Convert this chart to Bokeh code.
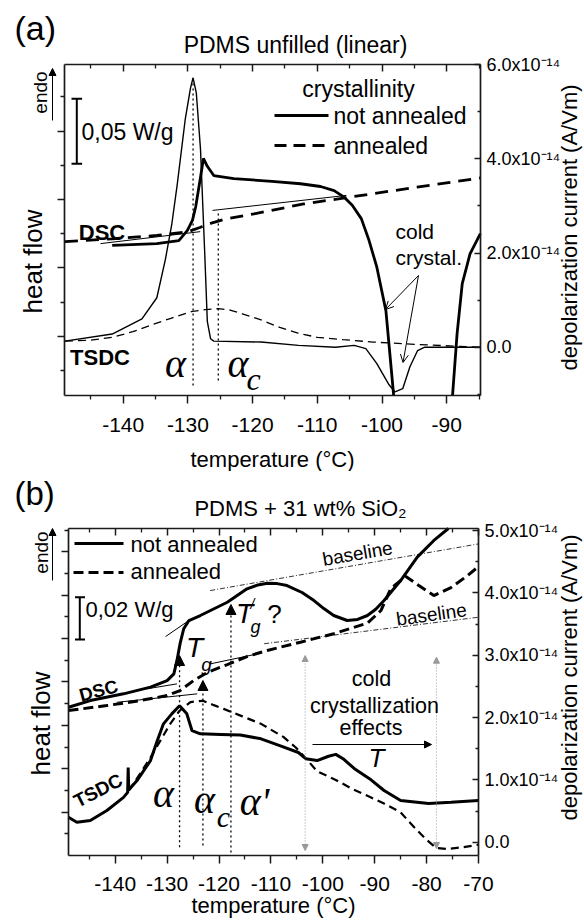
from math import pi
from bokeh.plotting import figure
from bokeh.models import Range1d, LinearAxis, FixedTicker, Label, Arrow, NormalHead, OpenHead
from bokeh.layouts import column
from bokeh.embed import file_html
from bokeh.resources import INLINE

SANS = "Liberation Sans"
SERIF = "Liberation Serif"
INK = "#1a1a1a"
NAN = float("nan")

# ---------------- panel (a): PDMS unfilled (linear) ----------------
# DSC heat flow (arbitrary units, left axis)
a_dsc_na_T = [-141.7, -134.8, -131.4, -130.1, -129.3, -128.8, -128.05, -127.6, -127.0, -126.0, -122.9, -117.0,
              -112.6, -109.5, -107.4, -105.8, -104.6, -103.2, -102.0, -100.8, -99.4, -98.2, NAN, -89.1,
              -88.4, -87.6, -86.4, -84.8]
a_dsc_na_hf = [3.66, 3.71, 3.80, 4.09, 4.39, 4.78, 5.65, 6.20, 5.97, 5.70, 5.61, 5.53,
               5.46, 5.38, 5.26, 5.06, 4.83, 4.44, 3.80, 3.02, 1.75, -0.73, NAN, -0.73,
               1.07, 2.54, 3.41, 4.00]
a_dsc_an_T = [-149.0, -141.7, -134.8, -130.1, -128.05, -126.5, -124.4, -119.8, -112.1, -104.9, -94.6, -84.8]
a_dsc_an_hf = [3.77, 3.85, 3.95, 4.05, 4.19, 4.30, 4.42, 4.58, 4.87, 5.07, 5.36, 5.63]
# TSDC depolarization current (units of 1e-14 A/Vm, right axis)
a_tsdc_na_T = [-149.0, -141.7, -137.1, -134.8, -133.5, -132.5, -131.65, -130.4, -129.6, -129.2, -128.7, -128.05,
               -127.4, -127.0, -126.5, -126.0, -118.7, -112.9, -107.2, -104.3, -102.5, -100.8, -99.0, -98.0,
               -96.8, -95.7, -94.5, -93.4, -84.8]
a_tsdc_na_I = [0.13, 0.28, 0.60, 1.05, 1.85, 2.60, 3.45, 4.85, 5.50, 5.72, 5.40, 4.20,
               2.00, 0.55, 0.18, 0.13, 0.11, 0.04, 0.00, 0.04, -0.03, -0.35, -0.78, -0.95,
               -0.88, -0.42, -0.07, 0.00, 0.00]
a_tsdc_an_T = [-149.0, -145.0, -141.7, -138.5, -135.9, -132.5, -129.3, -127.3, -125.3, -123.5, -121.6, -118.7,
               -115.8, -113.0, -110.0, -106.0, -101.4, -95.0, -84.8]
a_tsdc_an_I = [0.13, 0.15, 0.21, 0.33, 0.46, 0.62, 0.76, 0.80, 0.82, 0.79, 0.71, 0.58,
               0.42, 0.30, 0.21, 0.16, 0.11, 0.06, 0.00]
# tangent construction lines (DSC)
a_tan1_T = [-143.5, -128.1]
a_tan1_hf = [3.71, 4.06]
a_tan2_T = [-126.2, -105.5]
a_tan2_hf = [4.68, 5.12]
# peak markers
a_alpha_T = -129.2
a_alphac_T = -125.3

a_x_major = [-140, -130, -120, -110, -100, -90]
a_x_minor = [-145, -135, -125, -115, -105, -95, -85]
a_x_labels = ["-140", "-130", "-120", "-110", "-100", "-90"]
a_r_major = [0, 2, 4, 6]
a_r_minor = [-1, 1, 3, 5]
a_r_labels = ["0.0", "2.0x10\u207b\u00b9\u2074", "4.0x10\u207b\u00b9\u2074", "6.0x10\u207b\u00b9\u2074"]
a_l_major = [1, 3, 5, 7]
a_l_minor = [0, 2, 4, 6, 8]

# ---------------- panel (b): PDMS + 31 wt% SiO2 ----------------
b_dsc_na_T = [-149.0, -144.8, -138.4, -133.2, -130.0, -128.7, -128.1, -127.5, -126.8, -125.8, -123.6, -118.4,
              -114.6, -112.5, -110.7, -108.8, -106.9, -104.0, -101.7, -99.8, -97.9, -95.3, -93.3, -91.4,
              -89.8, -88.2, -85.0, -81.8, -78.6, -75.8]
b_dsc_na_hf = [5.83, 6.14, 6.45, 6.76, 7.06, 7.37, 7.99, 8.76, 9.45, 9.83, 10.06, 10.67,
               11.29, 11.47, 11.55, 11.53, 11.44, 11.12, 10.75, 10.38, 10.06, 9.83, 9.88, 10.06,
               10.35, 10.75, 11.67, 12.75, 13.52, 14.07]
b_dsc_an_T = [-149.0, -141.6, -135.2, -130.0, -127.5, -124.9, -122.3, -118.4, -114.6, -110.7, -104.3, -97.9,
              -91.4, -88.8, -86.9, -84.0, -81.5, -78.6, -75.3, -72.1, -70.0]
b_dsc_an_hf = [5.68, 5.91, 6.14, 6.37, 6.60, 7.06, 7.43, 7.80, 8.17, 8.45, 8.83, 9.22,
               9.71, 10.29, 11.30, 11.86, 11.44, 10.98, 11.35, 11.90, 12.32]
b_tsdc_na_T = [-149.0, -147.4, -144.8, -141.6, -138.4, -137.6, -137.5, -137.4, -135.8, -133.2, -131.9, -130.7,
               -129.1, -127.6, -126.2, -125.2, -123.6, -119.7, -115.9, -111.9, -108.3, -104.7, -103.3, -101.1,
               -98.9, -97.5, -96.1, -93.9, -91.0, -88.2, -85.0, -79.6, -75.3, -70.0]
b_tsdc_na_I = [0.40, 0.32, 0.35, 0.51, 0.72, 0.80, 1.20, 0.84, 0.99, 1.31, 1.63, 1.90,
               2.06, 2.19, 2.06, 1.79, 1.74, 1.73, 1.72, 1.66, 1.55, 1.44, 1.34, 1.31,
               1.38, 1.41, 1.34, 1.18, 1.02, 0.83, 0.67, 0.62, 0.64, 0.67]
b_tsdc_an_T = [-137.4, -135.2, -133.2, -131.3, -129.4, -127.6, -125.5, -123.1, -121.0, -119.1, -115.5, -111.9,
               -107.6, -105.2, -103.0, -101.1, -97.5, -94.2, -91.0, -88.2, -85.0, -83.4, -81.8, -80.0,
               -78.2, -76.0, -73.0, -70.0]
b_tsdc_an_I = [0.83, 1.10, 1.36, 1.63, 1.90, 2.11, 2.25, 2.27, 2.20, 2.14, 2.02, 1.90,
               1.69, 1.52, 1.32, 1.14, 1.00, 0.85, 0.73, 0.62, 0.48, 0.33, 0.19, 0.04,
               -0.09, -0.11, -0.08, -0.04]
b_tangents = [([-130.3, -125.8], [9.09, 9.83]),
              ([-139.7, -124.2], [6.06, 6.45]),
              ([-133.9, -128.1], [6.68, 6.91]),
              ([-121.7, -112.6], [7.83, 8.29])]
b_baselines = [([-121.7, -70.0], [11.21, 13.36]),
               ([-111.3, -70.0], [8.76, 9.98])]
b_alpha_T = -127.6
b_alphac_T = -123.1
b_alphap_T = -117.7
b_cc_start_T = -103.4
b_cc_end_T = -78.1

b_x_major = [-140, -130, -120, -110, -100, -90, -80, -70]
b_x_minor = [-145, -135, -125, -115, -105, -95, -85, -75]
b_x_labels = ["-140", "-130", "-120", "-110", "-100", "-90", "-80", "-70"]
b_r_major = [0, 1, 2, 3, 4, 5]
b_r_minor = [0.5, 1.5, 2.5, 3.5, 4.5]
b_r_labels = ["0.0"] + ["%d.0x10\u207b\u00b9\u2074" % k for k in range(1, 6)]
b_l_major = [1, 3, 5, 7, 9, 11, 13]
b_l_minor = [0, 2, 4, 6, 8, 10, 12, 14]

W = 584


class Panel:
    """A figure whose plotting frame is the whole canvas; the visible box is drawn by
    four bounded axes at fixed locations so that texts can sit anywhere on the canvas."""

    def __init__(self, top, H, box, xb, ylb, yrb):
        L, R, T, B = box
        self.L, self.R, self.T, self.B = box
        self.xb, self.ylb, self.yrb = xb, ylb, yrb
        sx = (R - L) / (xb[1] - xb[0])
        sl = (B - T) / (ylb[1] - ylb[0])
        sr = (B - T) / (yrb[1] - yrb[0])
        self.sx, self.sl = sx, sl
        xr = (xb[0] - L / sx, xb[1] + (W - R) / sx)
        yl = (ylb[0] - (top + H - B) / sl, ylb[1] + (T - top) / sl)
        yr = (yrb[0] - (top + H - B) / sr, yrb[1] + (T - top) / sr)
        p = figure(width=W, height=H, x_range=Range1d(*xr), y_range=Range1d(*yl),
                   output_backend="svg", toolbar_location=None,
                   x_axis_location=None, y_axis_location=None,
                   min_border=0, min_border_left=0, min_border_right=0,
                   min_border_top=0, min_border_bottom=0)
        p.extra_y_ranges = {"I": Range1d(*yr)}
        p.outline_line_color = None
        p.background_fill_color = "white"
        p.border_fill_color = "white"
        p.xgrid.visible = False
        p.ygrid.visible = False
        self.p = p

    def x(self, px):
        return self.xb[0] + (px - self.L) / self.sx

    def y(self, py):
        return self.ylb[0] + (self.B - py) / self.sl

    def axis(self, where, major, minor, labels=None, tin=0, tout=8, mtin=0, mtout=4,
             size="21px", standoff=5):
        kw = dict(ticker=FixedTicker(ticks=major, minor_ticks=minor),
                  axis_line_color=INK, axis_line_width=1.7,
                  major_tick_line_color=INK, major_tick_line_width=1.5,
                  minor_tick_line_color=INK, minor_tick_line_width=1.3,
                  major_tick_in=tin, major_tick_out=tout, minor_tick_in=mtin, minor_tick_out=mtout,
                  major_label_standoff=standoff, major_label_text_font=SANS,
                  major_label_text_color="black")
        if labels is None:
            kw["major_label_text_font_size"] = "0px"
        else:
            kw["major_label_text_font_size"] = size
            kw["major_label_overrides"] = dict(zip(major, labels))
        if where == "below":
            kw.update(fixed_location=self.ylb[0], bounds=self.xb)
        elif where == "above":
            kw.update(fixed_location=self.ylb[1], bounds=self.xb)
        elif where == "left":
            kw.update(fixed_location=self.xb[0], bounds=self.ylb)
        else:
            kw.update(fixed_location=self.xb[1], bounds=self.yrb, y_range_name="I")
        self.p.add_layout(LinearAxis(**kw), where)

    def txt(self, px, py, s, size, style="normal", font=SANS, align="center", baseline="middle", angle=0.0):
        self.p.add_layout(Label(x=self.x(px), y=self.y(py), text=s, text_font=font,
                                text_font_size="%spx" % size, text_font_style=style,
                                text_align=align, text_baseline=baseline, angle=angle,
                                text_color="black"))

    def arrow(self, p0, p1, end=None, start=None, color="black", width=1.0, dash="solid"):
        self.p.add_layout(Arrow(x_start=self.x(p0[0]), y_start=self.y(p0[1]),
                                x_end=self.x(p1[0]), y_end=self.y(p1[1]),
                                end=end, start=start, line_color=color, line_width=width,
                                line_dash=dash))


def head(size, color="black"):
    return NormalHead(size=size, fill_color=color, line_color=color, line_width=1)


# ============ panel (a) ============
HA = 471
A = Panel(0, HA, (64, 480, 64, 395), (-149.07, -84.78), (-0.731, 8.947), (-1.025, 6.002))
pa = A.p
A.axis("below", a_x_major, a_x_minor, a_x_labels, tout=8, mtout=4, size="21px", standoff=14)
A.axis("above", a_x_major, a_x_minor, None, tin=7, tout=0, mtin=4, mtout=0)
A.axis("left", a_l_major, a_l_minor, None, tin=0, tout=7, mtin=0, mtout=4)
A.axis("right", a_r_major, a_r_minor, a_r_labels, tin=6, tout=0, mtin=3, mtout=0, size="18px", standoff=6)

pa.line(a_dsc_an_T, a_dsc_an_hf, line_color="black", line_width=2.8, line_dash="13 8")
pa.line(a_dsc_na_T, a_dsc_na_hf, line_color="black", line_width=2.8)
pa.line(a_tsdc_an_T, a_tsdc_an_I, y_range_name="I", line_color="black", line_width=1.3, line_dash="8 5")
pa.line(a_tsdc_na_T, a_tsdc_na_I, y_range_name="I", line_color="black", line_width=1.4)
pa.line(a_tan1_T, a_tan1_hf, line_color="black", line_width=1)
pa.line(a_tan2_T, a_tan2_hf, line_color="black", line_width=1)
pa.line([a_alpha_T, a_alpha_T], [A.y(78), A.y(385)], line_color="black", line_width=1.3, line_dash="2 3")
pa.line([a_alphac_T, a_alphac_T], [A.y(213), A.y(380)], line_color="black", line_width=1.3, line_dash="2 3")

# legend
pa.line([A.x(274), A.x(328)], [A.y(115)] * 2, line_color="black", line_width=2.8)
pa.line([A.x(274), A.x(328)], [A.y(145)] * 2, line_color="black", line_width=2.8, line_dash="12 7")
A.txt(358, 88, "crystallinity", 23)
A.txt(333, 115, "not annealed", 23, align="left")
A.txt(333, 145, "annealed", 23, align="left")
# scale bar
pa.segment(x0=[A.x(76.3), A.x(71), A.x(71)], y0=[A.y(98.3), A.y(98.3), A.y(163.3)],
           x1=[A.x(76.3), A.x(81.6), A.x(81.6)], y1=[A.y(163.3), A.y(98.3), A.y(163.3)],
           line_color="black", line_width=2)
A.txt(81, 131, "0,05 W/g", 23, align="left")
A.txt(101.5, 231.5, "DSC", 22, style="bold")
A.txt(99.5, 357, "TSDC", 22, style="bold")
A.txt(175, 362.5, "\u03b1", 40, style="italic", font=SERIF)
A.txt(237.5, 362.5, "\u03b1", 40, style="italic", font=SERIF)
A.txt(253, 378, "c", 32, style="italic", font=SERIF)
A.txt(395, 231, "cold", 21, align="left")
A.txt(395, 257, "crystal.", 21, align="left")
A.arrow((418, 275), (385, 309), end=OpenHead(size=8, line_width=1))
A.arrow((418, 275), (402.5, 362), end=OpenHead(size=8, line_width=1))
# texts around the box
A.txt(14, 27, "(a)", 34, align="left")
A.txt(295, 44, "PDMS unfilled (linear)", 23)
A.txt(40, 92, "endo", 19, angle=pi / 2)
A.arrow((52, 120), (52, 68), end=head(7))
A.txt(32, 261, "heat flow", 26, angle=pi / 2)
A.txt(272, 459, "temperature (\u00b0C)", 22)
A.txt(569, 227, "depolarization current (A/Vm)", 22, angle=pi / 2)

# ============ panel (b) ============
Bp = Panel(HA, 920 - HA, (68, 478, 528, 855), (-149.0, -70.0), (-1.0, 14.07), (-0.213, 5.035))
pb = Bp.p
Bp.axis("below", b_x_major, b_x_minor, b_x_labels, tout=8, mtout=4, size="21px", standoff=13)
Bp.axis("above", b_x_major, b_x_minor, None, tin=7, tout=0, mtin=4, mtout=0)
Bp.axis("left", b_l_major, b_l_minor, None, tin=0, tout=7, mtin=0, mtout=4)
Bp.axis("right", b_r_major, b_r_minor, b_r_labels, tin=6, tout=0, mtin=3, mtout=0, size="18px", standoff=6)

for xs, ys in b_baselines:
    pb.line(xs, ys, line_color="#333333", line_width=1, line_dash="5 2 1 2")
for xs, ys in b_tangents:
    pb.line(xs, ys, line_color="black", line_width=1)
pb.line(b_dsc_an_T, b_dsc_an_hf, line_color="black", line_width=3, line_dash="10 5")
pb.line(b_dsc_na_T, b_dsc_na_hf, line_color="black", line_width=3)
pb.line(b_tsdc_an_T, b_tsdc_an_I, y_range_name="I", line_color="black", line_width=2.2, line_dash="8 5")
pb.line(b_tsdc_na_T, b_tsdc_na_I, y_range_name="I", line_color="black", line_width=3)

# peak / Tg arrows
for T, y0, y1 in [(b_alpha_T, 846.7, 655), (b_alphac_T, 845, 680), (b_alphap_T, 852, 604)]:
    pb.add_layout(Arrow(x_start=T, y_start=Bp.y(y0), x_end=T, y_end=Bp.y(y1), end=head(10),
                        line_width=1.3, line_color="black", line_dash="2 3"))
for T, y0, y1 in [(b_cc_start_T, 850, 655), (b_cc_end_T, 848, 656.7)]:
    pb.add_layout(Arrow(x_start=T, y_start=Bp.y(y0), x_end=T, y_end=Bp.y(y1),
                        start=head(6, "#999999"), end=head(6, "#999999"),
                        line_width=1, line_color="#999999", line_dash="1 2"))
Bp.arrow((312, 744), (431, 744), end=head(7))

# legend
pb.line([Bp.x(74), Bp.x(123)], [Bp.y(543)] * 2, line_color="black", line_width=3)
pb.line([Bp.x(73), Bp.x(123)], [Bp.y(572)] * 2, line_color="black", line_width=3, line_dash="10 5")
Bp.txt(130, 544, "not annealed", 22, align="left")
Bp.txt(130, 571, "annealed", 22, align="left")
# scale bar
pb.segment(x0=[Bp.x(79.3), Bp.x(74.5), Bp.x(74.5)], y0=[Bp.y(596.7), Bp.y(596.7), Bp.y(639)],
           x1=[Bp.x(79.3), Bp.x(84.5), Bp.x(84.5)], y1=[Bp.y(639), Bp.y(596.7), Bp.y(639)],
           line_color="black", line_width=2)
Bp.txt(85, 609, "0,02 W/g", 22, align="left")
Bp.txt(98, 690, "DSC", 18.5, style="bold", angle=0.26)
Bp.txt(97.5, 790, "TSDC", 19, style="bold", angle=0.47)
Bp.txt(194, 647, "T", 28, style="italic")
Bp.txt(206, 664, "g", 19, style="italic")
Bp.txt(244, 612.5, "T", 28, style="italic")
Bp.txt(252, 603, "/", 14, style="italic")
Bp.txt(255, 626, "g", 18, style="italic")
Bp.txt(274, 613, "?", 26)
Bp.txt(357, 553, "baseline", 19, angle=0.17)
Bp.txt(431, 614, "baseline", 19, angle=0.14)
Bp.txt(371, 678, "cold", 21.5)
Bp.txt(374, 705, "crystallization", 21.5)
Bp.txt(370.5, 727, "effects", 21.5)
Bp.txt(376, 757, "T", 26, style="italic")
Bp.txt(163, 792.5, "\u03b1", 40, style="italic", font=SERIF)
Bp.txt(204, 798.5, "\u03b1", 40, style="italic", font=SERIF)
Bp.txt(223, 816, "c", 30, style="italic", font=SERIF)
Bp.txt(254, 800.5, "\u03b1'", 40, style="italic", font=SERIF)
# texts around the box
Bp.txt(14, 493, "(b)", 33, align="left")
Bp.txt(300, 508, "PDMS + 31 wt% SiO\u2082", 22)
Bp.txt(41, 552, "endo", 19, angle=pi / 2)
Bp.arrow((52, 580), (52, 528), end=head(7))
Bp.txt(40, 723, "heat flow", 26, angle=pi / 2)
Bp.txt(273, 905, "temperature (\u00b0C)", 22)
Bp.txt(569, 677, "depolarization current (A/Vm)", 22, angle=pi / 2)

layout = column(pa, pb, spacing=0)
open("out.html", "w").write(file_html(layout, INLINE))
